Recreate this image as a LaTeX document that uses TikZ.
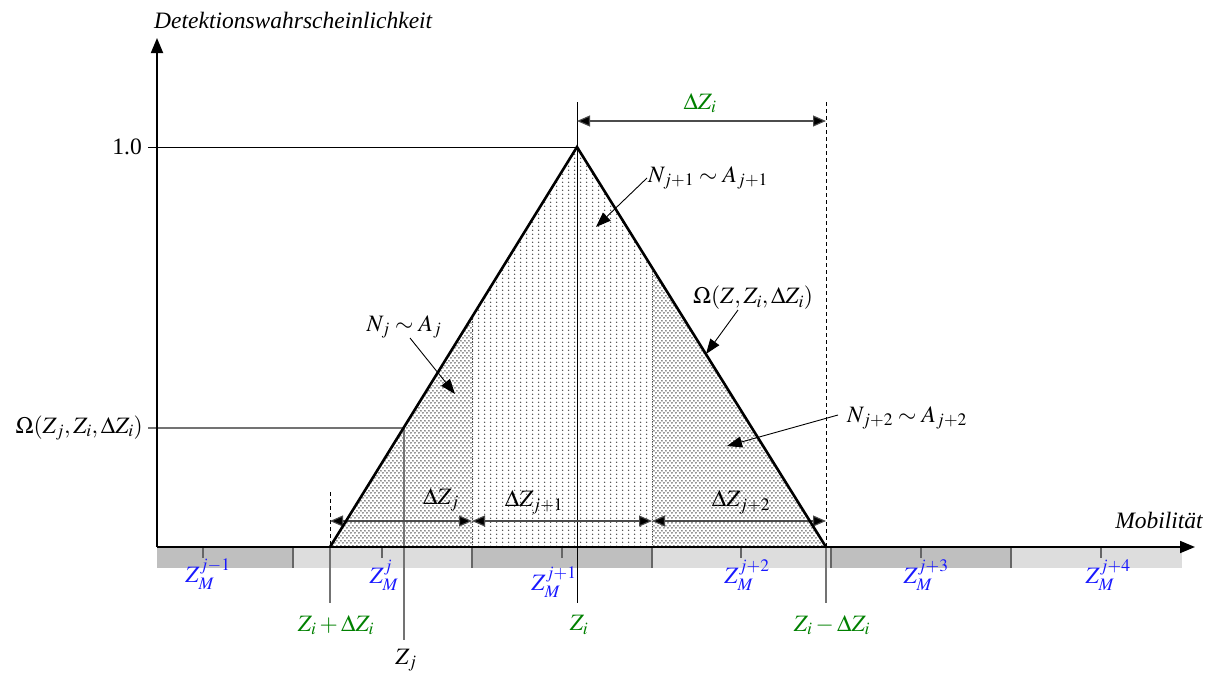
\documentclass[tikz,border=0pt]{standalone}
\usepackage{mathptmx}
\usepackage{fontspec}
\setmainfont{Liberation Serif}
\DeclareMathSizes{23.5}{23.5}{17.5}{13}
\usetikzlibrary{arrows.meta,patterns}
\definecolor{zgreen}{RGB}{0,128,0}
\definecolor{zblue}{RGB}{25,25,255}
\definecolor{bardark}{RGB}{191,191,191}
\definecolor{barlight}{RGB}{221,221,221}
\pgfdeclarepatternformonly{densedots}{\pgfpointorigin}{\pgfpoint{4.4pt}{5pt}}{\pgfpoint{4.4pt}{5pt}}{%
  \pgfpathcircle{\pgfpoint{1.1pt}{1.25pt}}{0.9pt}\pgfusepath{fill}%
  \pgfpathcircle{\pgfpoint{3.3pt}{3.75pt}}{0.9pt}\pgfusepath{fill}}
\pgfdeclarepatternformonly{sparsedots}{\pgfpointorigin}{\pgfpoint{5.6pt}{4.2pt}}{\pgfpoint{5.6pt}{4.2pt}}{%
  \pgfpathcircle{\pgfpoint{2.8pt}{2.1pt}}{0.85pt}\pgfusepath{fill}}
\tikzset{
  axisline/.style={line width=1.8pt,-{Triangle[length=15pt,width=12pt]}},
  edgeline/.style={line width=2.6pt,line join=miter},
  dimline/.style={line width=1.1pt,draw=black!70,{Triangle[length=13pt,width=11pt,fill=black]}-{Triangle[length=13pt,width=11pt,fill=black]}},
  grayline/.style={draw=black!55,line width=1.3pt},
  guideline/.style={line width=0.9pt},
  dashline/.style={line width=0.9pt,dash pattern=on 4pt off 3pt},
  dotline/.style={line width=0.9pt,draw=black!70,dash pattern=on 1pt off 1.5pt},
  bartick/.style={draw=black!60,line width=1.1pt},
  lbl/.style={inner sep=0pt,font=\fontsize{23.5}{28}\selectfont},
  annline/.style={line width=0.9pt,-{Triangle[length=15pt,width=11pt]}},
}
\begin{document}
\begin{tikzpicture}[x=1pt,y=-1pt]
\useasboundingbox (0,0) rectangle (1216,673);
% key points
\coordinate (O) at (157,547);
\coordinate (Ytip) at (157,38);
\coordinate (Xtip) at (1195,547);
\coordinate (L) at (330,547);
\coordinate (T) at (577,147);
\coordinate (R) at (826,547);
\coordinate (B1) at (472,547);
\coordinate (E1) at (472,317);
\coordinate (B2) at (652,547);
\coordinate (E2) at (652,267.5);
\coordinate (J) at (404,428);
% bar
\fill[bardark] (157,548) rectangle (293,568);
\fill[barlight] (293,548) rectangle (472,568);
\fill[bardark] (472,548) rectangle (652,568);
\fill[barlight] (652,548) rectangle (831,568);
\fill[bardark] (831,548) rectangle (1011,568);
\fill[barlight] (1011,548) rectangle (1182,568);
\foreach \x in {293,472,652,831,1011} \draw[bartick] (\x,548) -- (\x,568);
\foreach \x in {203,382,562,741,921,1101} \draw[bartick] (\x,548) -- (\x,558);
% shaded areas
\fill[white] (L) -- (T) -- (R) -- cycle;
\fill[pattern=densedots,pattern color=black!80] (L) -- (B1) -- (E1) -- cycle;
\fill[pattern=sparsedots,pattern color=black!72] (B1) -- (B2) -- (E2) -- (T) -- (E1) -- cycle;
\fill[pattern=densedots,pattern color=black!80] (B2) -- (R) -- (E2) -- cycle;
\draw[dotline] (B1) -- (E1);
\draw[dotline] (B2) -- (E2);
% guide lines
\coordinate (oneL) at (148,147);
\coordinate (omL) at (148,428);
\coordinate (ZiTop) at (577,102);
\coordinate (ZiBot) at (577,603);
\coordinate (LBot) at (330,603);
\coordinate (RBot) at (826,603);
\coordinate (RTop) at (826,102);
\coordinate (LTop) at (330,492);
\coordinate (JBot) at (404,640);
\draw[guideline] (oneL) -- (T);
\draw[grayline] (omL) -- (J);
\draw[grayline] (J) -- (JBot);
\draw[guideline] (ZiTop) -- (ZiBot);
\draw[grayline] (L) -- (LBot);
\draw[grayline] (R) -- (RBot);
\draw[dashline] (RTop) -- (R);
\draw[dashline] (LTop) -- (L);
% dimension arrows
\coordinate (dA) at (577,121);
\coordinate (dB) at (826,121);
\draw[dimline] (dA) -- (dB);
\coordinate (d1) at (330,521);
\coordinate (d2) at (472,521);
\coordinate (d3) at (652,521);
\coordinate (d4) at (826,521);
\draw[dimline] (d1) -- (d2);
\draw[dimline] (d2) -- (d3);
\draw[dimline] (d3) -- (d4);
% triangle
\draw[edgeline] (L) -- (T) -- (R);
% axes
\draw[axisline] (O) -- (Ytip);
\draw[axisline] (O) -- (Xtip);
% labels
\node[lbl,anchor=west] (ylab) at (154,20) {\itshape Detektionswahrscheinlichkeit};
\node[lbl] (xlab) at (1159,520) {\itshape Mobilität};
\node[lbl,anchor=east] (one) at (142,147) {1.0};
\node[lbl,anchor=east] (omj) at (143,428) {$\Omega(Z_j,Z_i,\Delta Z_i)$};
\node[lbl,text=zgreen] (dzi) at (700,103) {$\Delta Z_i$};
\node[lbl] (dzj) at (441,500) {$\Delta Z_j$};
\node[lbl] (dzj1) at (534,502) {$\Delta Z_{j+1}$};
\node[lbl] (dzj2) at (741,502) {$\Delta Z_{j+2}$};
\node[lbl,text=zgreen] (zipd) at (336,625) {$Z_i+\Delta Z_i$};
\node[lbl,text=zgreen] (zi) at (579,625) {$Z_i$};
\node[lbl,text=zgreen] (zimd) at (832,625) {$Z_i-\Delta Z_i$};
\node[lbl] (zj) at (406,660) {$Z_j$};
\node[lbl,text=zblue] (m1) at (208,574) {$Z_M^{j-1}$};
\node[lbl,text=zblue] (m2) at (384,575) {$Z_M^{j}$};
\node[lbl,text=zblue] (m3) at (554,582) {$Z_M^{j+1}$};
\node[lbl,text=zblue] (m4) at (747,575) {$Z_M^{j+2}$};
\node[lbl,text=zblue] (m5) at (926,575) {$Z_M^{j+3}$};
\node[lbl,text=zblue] (m6) at (1108,575) {$Z_M^{j+4}$};
% annotations
\node[lbl] (nj) at (404,327) {$N_j\sim A_j$};
\node[lbl] (nj1) at (708,178) {$N_{j+1}\sim A_{j+1}$};
\node[lbl] (om) at (753,298) {$\Omega(Z,Z_i,\Delta Z_i)$};
\node[lbl] (nj2) at (907,418) {$N_{j+2}\sim A_{j+2}$};
\coordinate (a1s) at (410,338); \coordinate (a1e) at (455,394);
\coordinate (a2s) at (647,178); \coordinate (a2e) at (596,227);
\coordinate (a3s) at (738,310); \coordinate (a3e) at (706,354);
\coordinate (a4s) at (838,415); \coordinate (a4e) at (727,446);
\draw[annline] (a1s) -- (a1e);
\draw[annline] (a2s) -- (a2e);
\draw[annline] (a3s) -- (a3e);
\draw[annline] (a4s) -- (a4e);
\end{tikzpicture}
\end{document}
